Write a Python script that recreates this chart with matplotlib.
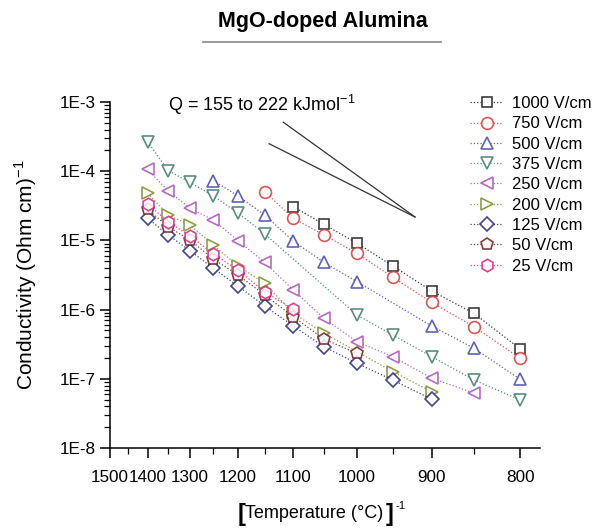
import matplotlib
matplotlib.use("Agg")
import matplotlib.pyplot as plt
import numpy as np
from matplotlib.lines import Line2D
from matplotlib.ticker import FixedLocator, NullFormatter

plt.rcParams['font.family'] = ['Liberation Sans', 'DejaVu Sans']
plt.rcParams['mathtext.fontset'] = 'custom'
plt.rcParams['mathtext.rm'] = 'Liberation Sans'
plt.rcParams['mathtext.bf'] = 'Liberation Sans:bold'

# conductivity (Ohm cm)^-1 for each field strength vs temperature (deg C)
T_1000 = [1100, 1050, 1000, 950, 900, 850, 800]
s_1000 = [3.07e-5, 1.71e-5, 9.1e-6, 4.27e-6, 1.86e-6, 8.8e-7, 2.7e-7]
T_750 = [1150, 1100, 1050, 1000, 950, 900, 850, 800]
s_750 = [5.06e-5, 2.09e-5, 1.2e-5, 6.5e-6, 2.93e-6, 1.27e-6, 5.66e-7, 1.98e-7]
T_500 = [1250, 1200, 1150, 1100, 1050, 1000, 900, 850, 800]
s_500 = [7.3e-5, 4.4e-5, 2.33e-5, 9.8e-6, 4.8e-6, 2.53e-6, 5.8e-7, 2.76e-7, 9.8e-8]
T_375 = [1400, 1350, 1300, 1250, 1200, 1150, 1000, 950, 900, 850, 800]
s_375 = [2.67e-4, 1.02e-4, 6.9e-5, 4.4e-5, 2.49e-5, 1.24e-5, 8.35e-7, 4.3e-7, 2.09e-7, 9.6e-8, 4.94e-8]
T_250 = [1400, 1350, 1300, 1250, 1200, 1150, 1100, 1050, 1000, 950, 900, 850]
s_250 = [1.06e-4, 5.2e-5, 2.91e-5, 1.97e-5, 9.9e-6, 4.8e-6, 1.92e-6, 7.5e-7, 3.43e-7, 2.09e-7, 1.02e-7, 6.2e-8]
T_200 = [1400, 1350, 1300, 1250, 1200, 1150, 1100, 1050, 950, 900]
s_200 = [4.8e-5, 2.33e-5, 1.67e-5, 8.6e-6, 4.27e-6, 2.4e-6, 8.9e-7, 4.55e-7, 1.27e-7, 6.5e-8]
T_125 = [1400, 1350, 1300, 1250, 1200, 1150, 1100, 1050, 1000, 950, 900]
s_125 = [2.09e-5, 1.2e-5, 7.1e-6, 3.95e-6, 2.19e-6, 1.13e-6, 5.8e-7, 2.91e-7, 1.67e-7, 9.6e-8, 5.06e-8]
T_50 = [1400, 1350, 1300, 1250, 1200, 1150, 1100, 1050, 1000]
s_50 = [2.81e-5, 1.58e-5, 1.01e-5, 5.4e-6, 3.16e-6, 1.63e-6, 7.9e-7, 3.76e-7, 2.33e-7]
T_25 = [1400, 1350, 1300, 1250, 1200, 1150, 1100]
s_25 = [3.36e-5, 1.86e-5, 1.16e-5, 6.4e-6, 3.73e-6, 1.81e-6, 1.01e-6]

labels = ['1000 V/cm', '750 V/cm', '500 V/cm', '375 V/cm', '250 V/cm',
          '200 V/cm', '125 V/cm', '50 V/cm', '25 V/cm']
Ts = [T_1000, T_750, T_500, T_375, T_250, T_200, T_125, T_50, T_25]
sigmas = [s_1000, s_750, s_500, s_375, s_250, s_200, s_125, s_50, s_25]
markers = ['s', 'o', '^', 'v', '<', '>', 'D', 'p', 'h']
msizes = [7.5, 8.5, 8.5, 8.5, 8.5, 8.5, 7, 9, 9]
colors = ['#1a1a1a', '#d43a3a', '#4646a8', '#3d7a6a', '#a553b5',
          '#7d8a2a', '#262673', '#6b1f1f', '#d6247f']

# activation energy range (kJ/mol) for the guide lines
Q_range = [155, 222]
Q_start_T = [1142, 1117]  # left ends of the guide lines (deg C)
Q_end = (921, 2.18e-5)    # common right end (deg C, conductivity)

xticks_T = [1500, 1400, 1300, 1200, 1100, 1000, 900, 800]
xminor_T = [1450, 1350, 1250, 1150, 1050, 950, 850]
yticks = [1e-8, 1e-7, 1e-6, 1e-5, 1e-4, 1e-3]
ytick_labels = ['1E-8', '1E-7', '1E-6', '1E-5', '1E-4', '1E-3']


def inv(T):
    # x axis is reciprocal absolute temperature (1e4/K)
    return 1e4 / (np.asarray(T, dtype=float) + 273.15)


W, H = 606, 532
fig = plt.figure(figsize=(W / 100, H / 100), dpi=100)
ax = fig.add_axes([110 / W, 1 - 448 / H, 430 / W, 346 / H])

for T, s, m, ms, c, lab in zip(Ts, sigmas, markers, msizes, colors, labels):
    ax.plot(inv(T), s, linestyle=':', linewidth=0.9, color=c, alpha=0.85,
            marker=m, markersize=ms, markerfacecolor='white',
            markeredgecolor=c, markeredgewidth=1.2, label=lab)

# activation energy guide lines
R = 8.314
for Q, Ts0 in zip(Q_range, Q_start_T):
    slope = Q * 1000 / (R * np.log(10)) * 1e-4
    xe = inv(Q_end[0])
    xs = inv(Ts0)
    ys = 10 ** (np.log10(Q_end[1]) + slope * (xe - xs))
    ax.plot([xs, xe], [ys, Q_end[1]], color='#333333', linewidth=0.9)

ax.set_yscale('log')
ax.set_ylim(1e-8, 1e-3)
ax.set_xlim(inv(1500), inv(780))

ax.xaxis.set_major_locator(FixedLocator(inv(xticks_T)))
ax.set_xticklabels([str(t) for t in xticks_T])
ax.xaxis.set_minor_locator(FixedLocator(inv(xminor_T)))
ax.set_yticks(yticks)
ax.set_yticklabels(ytick_labels)
ax.yaxis.set_minor_formatter(NullFormatter())

for side in ['top', 'right']:
    ax.spines[side].set_visible(False)
for side in ['left', 'bottom']:
    ax.spines[side].set_linewidth(1.1)
ax.tick_params(which='major', length=7, width=1.1, labelsize=12.3)
ax.tick_params(axis='x', which='major', pad=9)
ax.tick_params(axis='y', which='major', pad=3)
ax.tick_params(which='minor', length=4, width=0.9)

ax.set_ylabel('Conductivity (Ohm cm)$^{-1}$', fontsize=15)
ax.yaxis.set_label_coords(-0.165, 0.5)

# x label with large bold brackets, placed around the measured main text
ylab = 1 - 514 / H
main = fig.text(314 / W, ylab, 'Temperature (°C)', fontsize=13,
                ha='center', va='center')
renderer = fig.canvas.get_renderer()
bb = main.get_window_extent(renderer)
fig.text((bb.x0 + 1) / W, ylab - 1 / H, '[', fontsize=17, fontweight='bold',
         ha='right', va='center')
rb = fig.text((bb.x1 + 3) / W, ylab - 1 / H, ']', fontsize=17, fontweight='bold',
              ha='left', va='center')
rbb = rb.get_window_extent(renderer)
fig.text((rbb.x1 + 1) / W, ylab + 8 / H, '-1', fontsize=8, ha='left', va='center')

fig.text(323 / W, 1 - 22 / H, 'MgO-doped Alumina', fontsize=15.5,
         fontweight='bold', ha='center', va='center')
fig.add_artist(Line2D([203 / W, 441 / W], [1 - 42 / H, 1 - 42 / H],
                      color='#888888', linewidth=1.2))

fig.text(168 / W, 1 - 105 / H,
         'Q = %d to %d kJmol$^{-1}$' % (Q_range[0], Q_range[1]),
         fontsize=13, ha='left', va='center')

ax.legend(loc='upper left', bbox_to_anchor=(470 / W, 1 - 96 / H),
          bbox_transform=fig.transFigure, frameon=False, fontsize=12,
          handlelength=2.0, handletextpad=0.5, labelspacing=0.32,
          borderpad=0, borderaxespad=0)

fig.savefig('out.png', dpi=100)
